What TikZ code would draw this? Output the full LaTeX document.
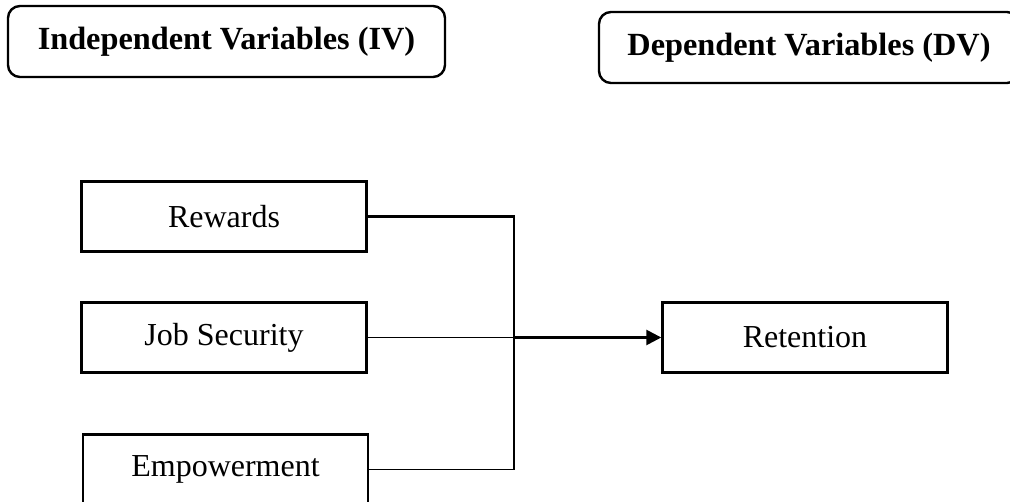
\documentclass[tikz,border=0pt]{standalone}
\usepackage{fontspec}
\setmainfont{Liberation Serif}
\usepackage{tikz}
\usetikzlibrary{arrows.meta,positioning}

\begin{document}
\begin{tikzpicture}[
    x=1pt, y=1pt,
    node distance=121pt,
    >={Triangle[length=15pt,width=15pt]},
    font=\fontsize{32}{36}\selectfont,
    header/.style={
		rectangle,
		rounded corners=12pt,
		draw=black,
		line width=2.4pt,
		text centered,
		minimum height=71pt,
		font=\fontsize{32.3}{36}\selectfont\bfseries
	},
	var/.style={
		rectangle,
		draw=black,
		line width=2.4pt,
		text centered,
		minimum height=70pt,
		minimum width=285pt,
		fill=white
	},
	thickline/.style={
	  line width=2.6pt
    },
	thinline/.style={
	  line width=1.2pt
    }
  ]

 \useasboundingbox (0,0) rectangle (1010,502);
 \clip (0,0) rectangle (1010,502);

% // headings
 \node [header, minimum width=437pt] (ivhead) at (226.5,460.5) {Independent Variables (IV)};
 \node [header, minimum width=420pt] (dvhead) at (809,454.5) {Dependent Variables (DV)};

% // variables
 \node [var] (rewards) at (224,285.5) {Rewards};
 \node [var, below of=rewards] (jobsec) {Job Security};
 \node [var, below of=jobsec, yshift=-11pt, xshift=1.5pt] (empower) {Empowerment};
 \node [var, right of=jobsec, node distance=581pt] (retention) {Retention};

% // joining point
 \coordinate [right of=jobsec, node distance=290pt] (jn);

 \draw [thickline]  (rewards.east) -| (jn);
 \draw [thinline]  (jobsec.east) -- (jn);
 \draw [thinline]  (empower.east) -| (jn);
 \draw [thickline, ->]  (jn) -- (retention.west);

\end{tikzpicture}
\end{document}
